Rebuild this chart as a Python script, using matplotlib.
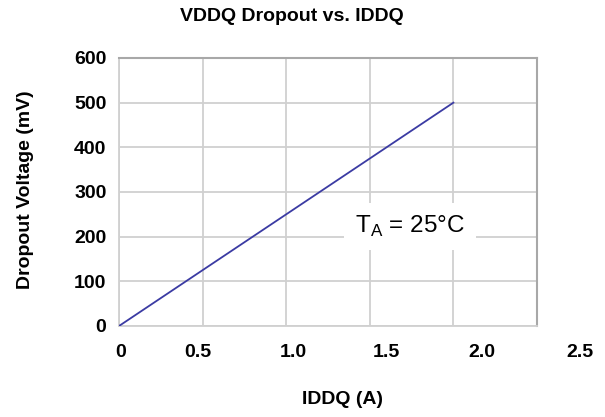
import matplotlib
matplotlib.use("Agg")
import matplotlib.pyplot as plt
import matplotlib.transforms as mtransforms

# Data
iddq_a = [0.0, 0.5, 1.0, 1.5, 2.0]
dropout_mv = [0, 125, 250, 375, 500]
x_ticks = [0, 0.5, 1.0, 1.5, 2.0, 2.5]
x_tick_labels = ["0", "0.5", "1.0", "1.5", "2.0", "2.5"]
y_ticks = [0, 100, 200, 300, 400, 500, 600]
y_tick_labels = ["0", "100", "200", "300", "400", "500", "600"]

plt.rcParams['font.family'] = ['Liberation Sans', 'DejaVu Sans']

fig = plt.figure(figsize=(6.05, 4.17), dpi=100)
ax = fig.add_axes([119/605, 1-326/417, (537-119)/605, (326-58)/417])

ax.plot(iddq_a, dropout_mv, color='#3b3ba3', lw=1.3, zorder=3)

ax.set_xlim(0, 2.5)
ax.set_ylim(0, 600)
ax.set_xticks(x_ticks)
ax.set_xticklabels(x_tick_labels, fontsize=14, fontweight='bold')
ax.set_yticks(y_ticks)
ax.set_yticklabels(y_tick_labels, fontsize=14, fontweight='bold')
ax.tick_params(length=0)
ax.tick_params(axis='x', pad=13)
ax.tick_params(axis='y', pad=9)

# shift x tick labels to match reference placement
offsets_px = [2, -5, 7, 17, 28, 43]
for lab, off in zip(ax.get_xticklabels(), offsets_px):
    lab.set_transform(lab.get_transform() + mtransforms.ScaledTranslation(off/100, 0, fig.dpi_scale_trans))

ax.grid(True, color='#d0d0d0', lw=1.3)
ax.set_axisbelow(True)
for side in ['left', 'bottom']:
    ax.spines[side].set_color('#d0d0d0')
    ax.spines[side].set_linewidth(1.3)
for side in ['top', 'right']:
    ax.spines[side].set_color('#a8a8a8')
    ax.spines[side].set_linewidth(1.5)

ax.set_xlabel("IDDQ (A)", fontsize=14, fontweight='bold')
ax.xaxis.set_label_coords((343-119)/418, -(400-326)/268)
ax.xaxis.label.set_va('center')
ax.set_ylabel("Dropout Voltage (mV)", fontsize=14, fontweight='bold')
ax.yaxis.set_label_coords(-(119-26)/418, (326-190)/268)
ax.yaxis.label.set_va('center')
fig.suptitle("VDDQ Dropout vs. IDDQ", fontsize=14, fontweight='bold', x=292/605, y=1-8/417, va='top')

ax.text(1.41, 222, "T$_\\mathregular{A}$ = 25°C", fontsize=17.5, ha='left', va='center',
        bbox=dict(boxstyle='square,pad=0.45', facecolor='white', edgecolor='none'), zorder=4)

fig.savefig("out.png", dpi=100)
